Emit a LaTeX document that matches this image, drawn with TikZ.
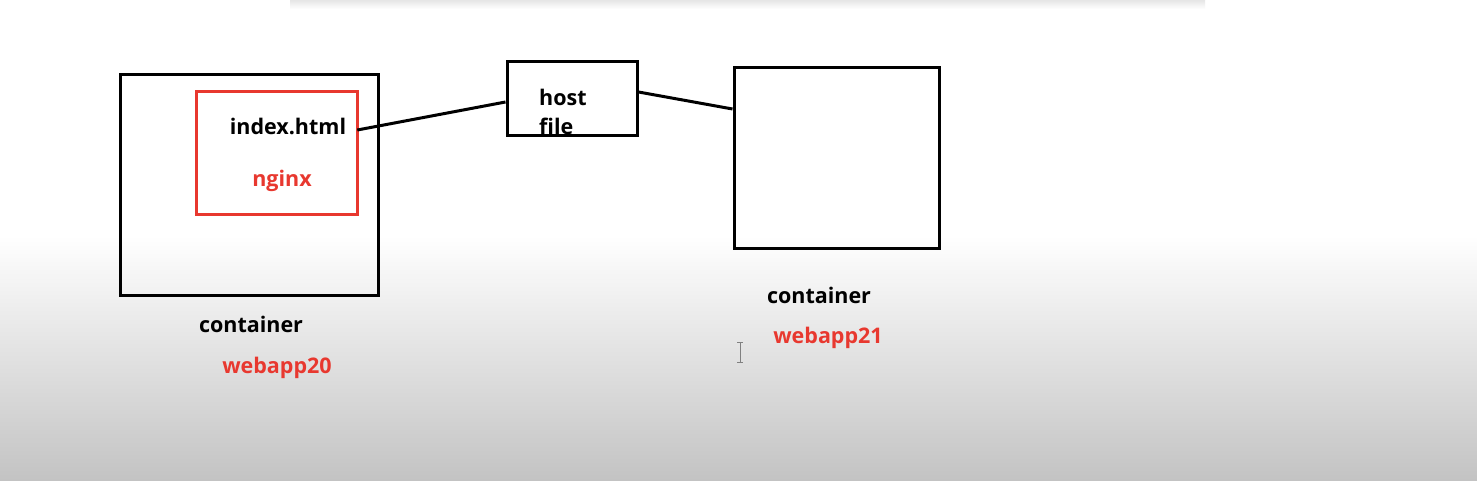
\documentclass[tikz,border=0pt]{standalone}
\usepackage{fontspec}
\setmainfont{Open Sans}
\definecolor{myred}{HTML}{E8382F}
\definecolor{bgbot}{HTML}{C3C3C3}
\begin{document}
\begin{tikzpicture}[x=1pt,y=-1pt,
  lbl/.style={font=\bfseries\fontsize{21.5}{24}\selectfont,text=black,inner sep=0pt},
  rlbl/.style={font=\bfseries\fontsize{21.5}{24}\selectfont,text=myred,inner sep=0pt},
  conn/.style={draw=black,line width=3pt}]
\useasboundingbox (0,0) rectangle (1477,481);
\fill[white] (0,0) rectangle (1477,481);
\shade[top color=white,bottom color=bgbot] (0,235) rectangle (1477,481);
\shade[top color=black!10,bottom color=white] (290,0) rectangle (1205,9);
% left container
\node[draw=black,line width=3pt,minimum width=258pt,minimum height=220pt,inner sep=0pt] (lbox) at (249,185) {};
\node[draw=myred,line width=3pt,minimum width=161pt,minimum height=122pt,inner sep=0pt] (nbox) at (276.5,153) {};
\node[lbl] (idx) at (288,126) {index.html};
\node[rlbl] (ngx) at (282,181) {nginx};
\node[lbl] (c1) at (251,324) {container};
\node[rlbl] (w1) at (277,368) {webapp20};
% host file
\node[draw=black,line width=3pt,minimum width=130pt,minimum height=74pt,inner sep=0pt] (host) at (572,99) {};
\node[lbl,anchor=west] (ht) at (539,97) {host};
\node[lbl,anchor=west] (hf) at (539,126) {file};
% right container
\node[draw=black,line width=3pt,minimum width=205pt,minimum height=180pt,inner sep=0pt] (rbox) at (836.5,158) {};
\node[lbl] (c2) at (819,295) {container};
\node[rlbl] (w2) at (828,338) {webapp21};
% connectors
\draw[conn] ([xshift=11pt,yshift=-4pt]idx.east) -- ([yshift=-3pt]host.west);
\draw[conn] ([yshift=7pt]host.east) -- ([yshift=49pt]rbox.west);
% text cursor
\draw[gray,line width=1pt] (740,342) -- (740,362) (737,342) -- (743,342) (737,362) -- (743,362);
\end{tikzpicture}
\end{document}
